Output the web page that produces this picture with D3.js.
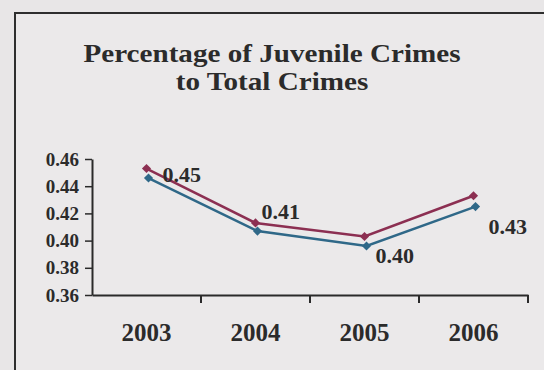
<!DOCTYPE html>
<html>
<head>
<meta charset="utf-8">
<script src="https://cdn.jsdelivr.net/npm/d3@7"></script>
<style>
  html, body { margin: 0; padding: 0; background: #e8e6e7; }
  svg { display: block; }
  text { font-family: "Liberation Serif", "Times New Roman", serif; font-weight: bold; fill: #2b2b2b; }
</style>
</head>
<body>
<svg id="chart" width="544" height="370"></svg>
<script>
const years = ["2003", "2004", "2005", "2006"];
const seriesUpper = [0.453, 0.413, 0.403, 0.433];
const seriesLower = [0.446, 0.407, 0.396, 0.425];
const pointLabels = ["0.45", "0.41", "0.40", "0.43"];
const yTicks = [0.36, 0.38, 0.40, 0.42, 0.44, 0.46];
const titleLines = ["Percentage of Juvenile Crimes", "to Total Crimes"];
// label placement offsets (layout only)
const labelOffsets = [[16, 13], [6, -4], [11, 26], [15, 38]];

const svg = d3.select("#chart");

// frame
svg.append("rect").attr("x", 15).attr("y", 13).attr("width", 560).attr("height", 400)
  .attr("fill", "#ebe9ea").attr("stroke", "#2e2e2e").attr("stroke-width", 2);

// title (slightly widened glyphs like the scanned original)
svg.append("g").selectAll("text").data(titleLines).join("text")
  .attr("transform", (d, i) => `translate(272,${62 + i * 28}) scale(1.12,1)`)
  .attr("text-anchor", "middle")
  .style("font-size", "26px").text(d => d);

const x = d3.scaleBand().domain(years).range([92, 528]).padding(0);
const y = d3.scaleLinear().domain([0.36, 0.46]).range([295, 159]);
const cx = d => x(d) + x.bandwidth() / 2;

// y axis
const yAxis = svg.append("g").attr("transform", "translate(92,0)")
  .call(d3.axisLeft(y).tickValues(yTicks).tickFormat(d3.format(".2f")).tickSize(7).tickSizeOuter(0));
yAxis.select(".domain").attr("stroke", "#2a2a2a").attr("stroke-width", 2);
yAxis.selectAll(".tick line").attr("stroke", "#2a2a2a").attr("stroke-width", 1.5);
yAxis.selectAll(".tick text").attr("x", -13).style("font-size", "19px")
  .style("font-family", '"Liberation Serif", serif').style("font-weight", "bold").attr("fill", "#2b2b2b");

// x axis
const xAxis = svg.append("g").attr("transform", "translate(0,295)")
  .call(d3.axisBottom(x).tickSize(0).tickSizeOuter(0).tickFormat(""));
xAxis.select(".domain").attr("stroke", "#2a2a2a").attr("stroke-width", 2);
xAxis.selectAll(".tick").remove();
svg.append("g").selectAll("line").data(years).join("line")
  .attr("x1", d => x(d) + x.bandwidth()).attr("x2", d => x(d) + x.bandwidth())
  .attr("y1", 295).attr("y2", 303).attr("stroke", "#2a2a2a").attr("stroke-width", 2);
svg.append("g").selectAll("text").data(years).join("text")
  .attr("x", d => cx(d)).attr("y", 341).attr("text-anchor", "middle")
  .style("font-size", "25px").text(d => d);

// lines
const line = d3.line().x((d, i) => cx(years[i])).y(d => y(d));
const colLower = "#2f6888", colUpper = "#8c2f52";
svg.append("path").datum(seriesLower).attr("d", line).attr("fill", "none")
  .attr("stroke", colLower).attr("stroke-width", 2.5).attr("transform", "translate(2,0)");
svg.append("path").datum(seriesUpper).attr("d", line).attr("fill", "none")
  .attr("stroke", colUpper).attr("stroke-width", 2.5);

const marker = d3.symbol().type(d3.symbolSquare).size(42);
svg.append("g").selectAll("path").data(seriesLower).join("path")
  .attr("d", marker).attr("fill", colLower)
  .attr("transform", (d, i) => `translate(${cx(years[i]) + 2},${y(d)}) rotate(45)`);
svg.append("g").selectAll("path").data(seriesUpper).join("path")
  .attr("d", marker).attr("fill", colUpper)
  .attr("transform", (d, i) => `translate(${cx(years[i])},${y(d)}) rotate(45)`);

// data labels
svg.append("g").selectAll("text").data(seriesUpper).join("text")
  .attr("x", (d, i) => cx(years[i]) + labelOffsets[i][0])
  .attr("y", (d, i) => y(d) + labelOffsets[i][1])
  .style("font-size", "22px").text((d, i) => pointLabels[i]);
</script>
</body>
</html>
